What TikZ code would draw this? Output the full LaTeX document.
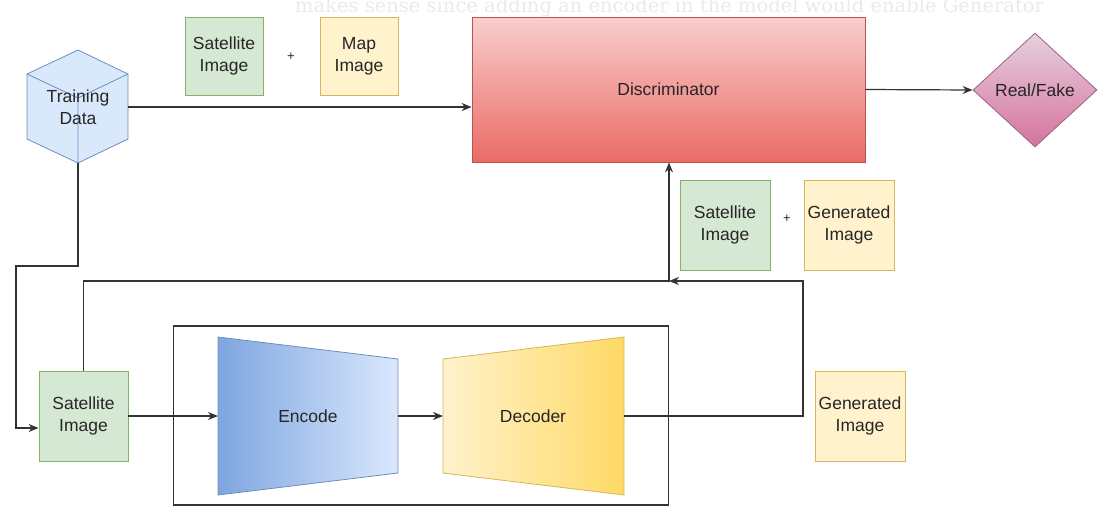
\documentclass[tikz,border=0pt]{standalone}
\usepackage{fontspec}
\setmainfont{Liberation Sans}
\newfontfamily\faintserif{DejaVu Serif}
\usetikzlibrary{arrows.meta,shapes.geometric,calc}
\definecolor{txt}{HTML}{262626}
\definecolor{lc}{HTML}{333333}
\definecolor{gfill}{HTML}{D5E8D4}
\definecolor{gstroke}{HTML}{82B366}
\definecolor{yfill}{HTML}{FFF2CC}
\definecolor{ystroke}{HTML}{D6B656}
\definecolor{ydark}{HTML}{FFD966}
\definecolor{bfill}{HTML}{DAE8FC}
\definecolor{bdark}{HTML}{7EA6E0}
\definecolor{bstroke}{HTML}{6C8EBF}
\definecolor{rtop}{HTML}{F8CECC}
\definecolor{rbot}{HTML}{EA6B66}
\definecolor{rstroke}{HTML}{B85450}
\definecolor{ptop}{HTML}{E6D0DE}
\definecolor{pbot}{HTML}{D5739D}
\definecolor{pstroke}{HTML}{996185}
\definecolor{faint}{HTML}{EAEAEA}
\begin{document}
\begin{tikzpicture}[x=1pt,y=-1pt,
  font=\fontsize{17.5}{22}\selectfont,
  box/.style={draw, line width=0.8pt, inner sep=0pt, align=center, text=txt},
  greenbox/.style={box, fill=gfill, draw=gstroke},
  yellowbox/.style={box, fill=yfill, draw=ystroke},
  conn/.style={draw=lc, line width=1.2pt},
  arr/.style={conn, -{Stealth[length=10pt,width=8pt]}},
  plus/.style={text=txt, font=\fontsize{13}{13}\selectfont}]
\useasboundingbox (0,0) rectangle (1112,520);

% faint cut-off text at the top
\node[text=faint, anchor=base west, inner sep=0pt, font=\faintserif\fontsize{19.5}{19.5}\selectfont] (toptext) at (295,12) {makes sense since adding an encoder in the model would enable Generator};

% Training data cube
\filldraw[fill=bfill, draw=bstroke, line width=0.8pt]
  (78,50) -- (128,74) -- (128,139) -- (78,163) -- (27,139) -- (27,74) -- cycle;
\draw[bstroke, line width=0.8pt] (27,74) -- (78,98) -- (128,74) (78,98) -- (78,163);
\node[text=txt, align=center] (td) at (78,107) {Training\\Data};
\coordinate (cubeR) at (128,107);
\coordinate (cubeB) at (78,163);

% top pair
\node[greenbox, minimum width=78pt, minimum height=78pt] (sat1) at (224,56) {Satellite\\Image};
\node[plus] (plus1) at (291,57) {+};
\node[yellowbox, minimum width=78pt, minimum height=78pt] (map) at (359,56) {Map\\Image};

% discriminator
\node[box, draw=rstroke, top color=rtop, bottom color=rbot, minimum width=393pt, minimum height=145pt] (disc) at (668.5,89.5) {Discriminator};

% real/fake
\node[diamond, draw=pstroke, line width=0.8pt, top color=ptop, bottom color=pbot, inner sep=0pt, minimum width=124pt, minimum height=114pt] (rf) at (1035,90) {};
\node[text=txt] (rft) at (rf.center) {Real/Fake};

% middle pair
\node[greenbox, minimum width=90pt, minimum height=90pt] (sat2) at (725,225) {Satellite\\Image};
\node[plus] (plus2) at (787,219) {+};
\node[yellowbox, minimum width=90pt, minimum height=90pt] (gen1) at (849,225) {Generated\\Image};

% generator box
\node[draw=lc, line width=1.2pt, minimum width=495pt, minimum height=179pt, inner sep=0pt] (gbox) at (421,415.5) {};

% encoder
\shadedraw[left color=bdark, right color=bfill, draw=bstroke, line width=0.8pt]
  (218,337) -- (398,359) -- (398,473) -- (218,495) -- cycle;
\node[text=txt] (enc) at (308,416) {Encode};
\coordinate (encl) at (218,416);
\coordinate (encr) at (398,416);

% decoder
\shadedraw[left color=yfill, right color=ydark, draw=ystroke, line width=0.8pt]
  (443,359) -- (624,337) -- (624,495) -- (443,473) -- cycle;
\node[text=txt] (dec) at (533,416) {Decoder};
\coordinate (decl) at (443,416);
\coordinate (decr) at (624,416);

% bottom boxes
\node[greenbox, minimum width=89pt, minimum height=90pt] (sat3) at (83.5,416) {Satellite\\Image};
\node[yellowbox, minimum width=90pt, minimum height=90pt] (gen2) at (860,416) {Generated\\Image};

% connectors
\coordinate (junc) at (669,281);
\draw[arr] (cubeR) -- (cubeR -| disc.west);
\draw[arr] (disc.east) -- (rf.west);
\draw[arr] (cubeB) -- (78,266) -| (16,428) -- ($(sat3.west)+(0,12)$);
\draw[arr] (sat3.east) -- (encl);
\draw[arr] (encr) -- (decl);
\draw[arr] (decr) -- (803,416) -- (803,281) -- (junc);
\draw[arr] (sat3.north) |- (junc) -- (junc |- disc.south);
\end{tikzpicture}
\end{document}
